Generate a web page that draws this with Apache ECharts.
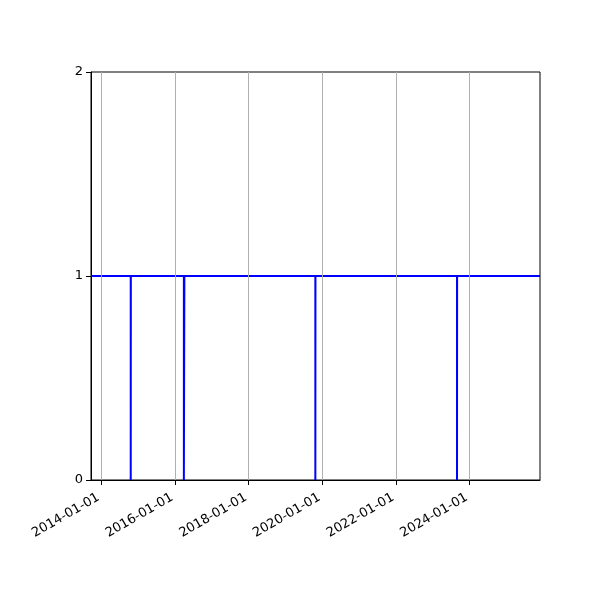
<!DOCTYPE html>
<html>
<head>
<meta charset="utf-8">
<script src="https://cdn.jsdelivr.net/npm/echarts@6/dist/echarts.min.js"></script>
<style>
  html, body { margin: 0; padding: 0; background: #fff; }
  #chart { width: 600px; height: 600px; }
</style>
</head>
<body>
<div id="chart"></div>
<script>
// step data: 1 most of the time, short dips to 0
var dates = ['2013-09-22', '2014-10-21', '2014-10-22', '2016-03-31', '2016-04-05',
             '2019-10-26', '2019-10-27', '2023-08-31', '2023-09-01', '2025-12-01'];
var values = [1, 0, 1, 0, 1, 0, 1, 0, 1, 1];
var tickDates = ['2014-01-01', '2016-01-01', '2018-01-01', '2020-01-01', '2022-01-01', '2024-01-01'];
var yTicks = [0, 1, 2];

function ts(d) { return new Date(d + 'T00:00:00Z').getTime(); }
function pad(n) { return (n < 10 ? '0' : '') + n; }
function fmt(v) {
  var d = new Date(v);
  return d.getUTCFullYear() + '-' + pad(d.getUTCMonth() + 1) + '-' + pad(d.getUTCDate());
}

var seriesData = dates.map(function (d, i) { return [ts(d), values[i]]; });
var tickVals = tickDates.map(ts);

var chart = echarts.init(document.getElementById('chart'));
chart.setOption({
  animation: false,
  grid: {
    left: 91, right: 60, top: 72, bottom: 120,
    show: true, borderColor: '#000', borderWidth: 1, backgroundColor: 'transparent'
  },
  xAxis: {
    type: 'value',
    min: ts(dates[0]),
    max: ts(dates[dates.length - 1]),
    axisLine: { show: true, lineStyle: { color: '#000', width: 1 } },
    axisTick: { show: true, length: 5, inside: false, lineStyle: { color: '#000' }, customValues: tickVals },
    axisLabel: {
      customValues: tickVals,
      formatter: function (v) { return fmt(v); },
      rotate: 30,
      margin: 15,
      padding: [0, 3, 0, 0],
      color: '#000',
      fontFamily: 'DejaVu Sans',
      fontSize: 13
    },
    splitLine: { show: false }
  },
  yAxis: {
    type: 'value',
    min: yTicks[0],
    max: yTicks[yTicks.length - 1],
    interval: 1,
    axisLine: { show: true, lineStyle: { color: '#000', width: 1 } },
    axisTick: { show: true, length: 5, inside: false, lineStyle: { color: '#000' } },
    axisLabel: { color: '#000', fontFamily: 'DejaVu Sans', fontSize: 13, margin: 8 },
    splitLine: { show: false }
  },
  series: [
    {
      // vertical grid lines at the date ticks
      type: 'line',
      data: [],
      z: 1,
      silent: true,
      markLine: {
        silent: true,
        symbol: ['none', 'none'],
        label: { show: false },
        lineStyle: { color: '#b0b0b0', width: 1, type: 'solid' },
        data: tickVals.map(function (v) { return { xAxis: v }; })
      }
    },
    {
      type: 'line',
      step: 'end',
      data: seriesData,
      z: 3,
      showSymbol: false,
      symbol: 'none',
      lineStyle: { color: '#0000ff', width: 2 }
    }
  ]
});
</script>
</body>
</html>
